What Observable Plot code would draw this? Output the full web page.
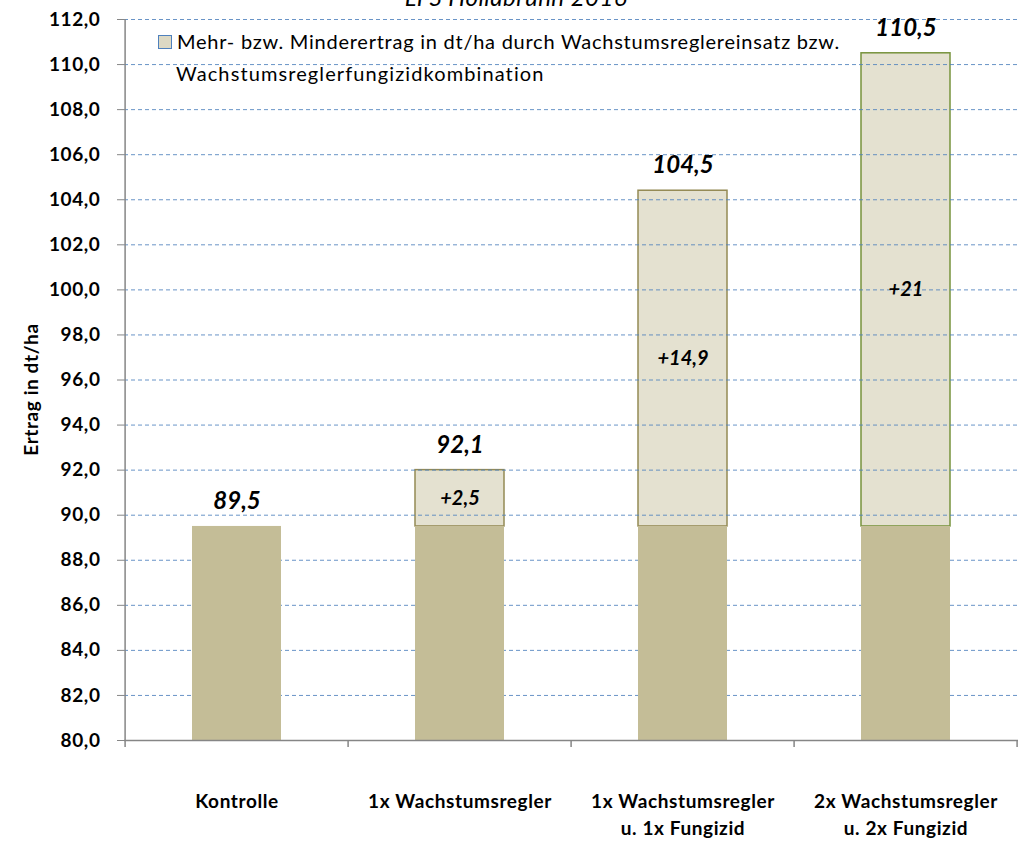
<!DOCTYPE html>
<html>
<head>
<meta charset="utf-8">
<script src="https://cdn.jsdelivr.net/npm/d3@7"></script>
<script src="https://cdn.jsdelivr.net/npm/@observablehq/plot@0.6"></script>
<style>
  html, body { margin: 0; padding: 0; background: #fff; }
  #chart svg { overflow: hidden; }
</style>
</head>
<body>
<div id="chart"></div>
<script>
// ---- data ----
const categories = ["Kontrolle", "1x Wachstumsregler", "1x Wachstumsregler u. 1x Fungizid", "2x Wachstumsregler u. 2x Fungizid"];
const tickLabels = ["Kontrolle", "1x Wachstumsregler", "1x Wachstumsregler\nu. 1x Fungizid", "2x Wachstumsregler\nu. 2x Fungizid"];
const baseYield = [89.5, 89.5, 89.5, 89.5];
const extraYield = [0, 2.5, 14.9, 21];
const totalLabels = ["89,5", "92,1", "104,5", "110,5"];
const extraLabels = ["", "+2,5", "+14,9", "+21"];
const yTicks = [80, 82, 84, 86, 88, 90, 92, 94, 96, 98, 100, 102, 104, 106, 108, 110, 112];
const yDomain = [80, 112];
const title = "LFS Hollabrunn 2016";
const yTitle = "Ertrag in dt/ha";
const legendLines = ["Mehr- bzw. Minderertrag in dt/ha durch Wachstumsreglereinsatz bzw.", "Wachstumsreglerfungizidkombination"];
const extraStroke = ["#948A54", "#948A54", "#948A54", "#77933C"];

const rows = categories.map((c, i) => ({
  cat: c, base: baseYield[i], extra: extraYield[i],
  top: baseYield[i] + extraYield[i],
  totalLabel: totalLabels[i], extraLabel: extraLabels[i], stroke: extraStroke[i]
}));
const upper = rows.filter(d => d.extra > 0);

const font = "Lato, 'Open Sans', sans-serif";
const fmt = d => d.toFixed(1).replace(".", ",");

const plot = Plot.plot({
  width: 1024,
  height: 842,
  marginLeft: 124,
  marginRight: 6,
  marginTop: 19,
  marginBottom: 102,
  style: { fontFamily: font, background: "#fff" },
  x: { domain: categories, paddingInner: 0.6, paddingOuter: 0.3, label: null },
  y: { domain: yDomain, label: null },
  marks: [
    Plot.barY(upper, { x: "cat", y1: "base", y2: "top", fill: "#DDD9C4", fillOpacity: 0.8, stroke: "stroke", strokeWidth: 1.5 }),
    Plot.gridY(yTicks.filter(t => t > yDomain[0]), { stroke: "#4F81BD", strokeOpacity: 0.85, strokeDasharray: "4,3", strokeWidth: 1 }),
    Plot.barY(rows, { x: "cat", y1: () => yDomain[0], y2: "base", fill: "#C4BD97" }),
    Plot.ruleY([yDomain[0]], { stroke: "#868686", strokeWidth: 1.5 }),
    Plot.axisY({ ticks: yTicks, tickFormat: fmt, tickSize: 7, tickPadding: 17, stroke: "#868686", fontSize: 19, fontWeight: "bold", fill: "#000", label: null }),
    Plot.axisX({ tickSize: 0, tickPadding: 48, tickFormat: d => tickLabels[categories.indexOf(d)], fontSize: 19, fontWeight: "bold", fill: "#000", lineHeight: 1.42, label: null }),
    Plot.text(rows, { x: "cat", y: "top", text: "totalLabel", dy: -25, fontSize: 24, fontWeight: "bold", fontStyle: "italic", fill: "#000" }),
    Plot.text(upper, { x: "cat", y: d => d.base + d.extra / 2, text: "extraLabel", fontSize: 20, fontWeight: "bold", fontStyle: "italic", fill: "#000" })
  ]
});

document.getElementById("chart").appendChild(plot);

const svg = d3.select(plot);
svg.selectAll("g[aria-label='x-axis tick label'] text, g[aria-label='y-axis tick label'] text").attr("letter-spacing", 0.6);

// axis line & category boundary ticks from the library's scale
const xs = plot.scale("x");
const ys = plot.scale("y");
const step = xs.step ?? (xs.bandwidth / 0.4);
const x0 = xs.apply(categories[0]) - step * 0.3;
const yBottom = ys.apply(yDomain[0]);
const yTop = ys.apply(yDomain[1]);
svg.append("line").attr("x1", x0).attr("x2", x0).attr("y1", yTop).attr("y2", yBottom + 7)
  .attr("stroke", "#868686").attr("stroke-width", 1.5);
for (let i = 1; i <= categories.length; i++) {
  const xb = x0 + step * i;
  svg.append("line").attr("x1", xb).attr("x2", xb).attr("y1", yBottom).attr("y2", yBottom + 7)
    .attr("stroke", "#868686").attr("stroke-width", 1.5);
}

// title (cut at the top as in the reference)
svg.append("text").attr("x", 516).attr("y", 6).attr("text-anchor", "middle")
  .attr("font-family", font).attr("font-size", 24).attr("font-style", "italic").attr("fill", "#000")
  .attr("letter-spacing", 0.5)
  .text(title);

// y axis title
svg.append("text").attr("transform", `translate(33,${(yTop + yBottom) / 2 + 10}) rotate(-90)`)
  .attr("text-anchor", "middle").attr("dominant-baseline", "middle")
  .attr("font-family", font).attr("font-size", 19).attr("font-weight", "bold").attr("fill", "#000")
  .attr("letter-spacing", 0.6)
  .text(yTitle);

// legend
svg.append("rect").attr("x", 158.5).attr("y", 35.5).attr("width", 13).attr("height", 13)
  .attr("fill", "#DDD9C4").attr("stroke", "#4F81BD").attr("stroke-width", 1);
svg.append("text").attr("x", 177).attr("y", 49).attr("text-anchor", "start")
  .attr("font-family", font).attr("font-size", 20).attr("letter-spacing", 0.75).attr("fill", "#000")
  .text(legendLines[0]);
svg.append("text").attr("x", 176).attr("y", 81).attr("text-anchor", "start")
  .attr("font-family", font).attr("font-size", 20).attr("letter-spacing", 1.1).attr("fill", "#000")
  .text(legendLines[1]);
</script>
</body>
</html>
